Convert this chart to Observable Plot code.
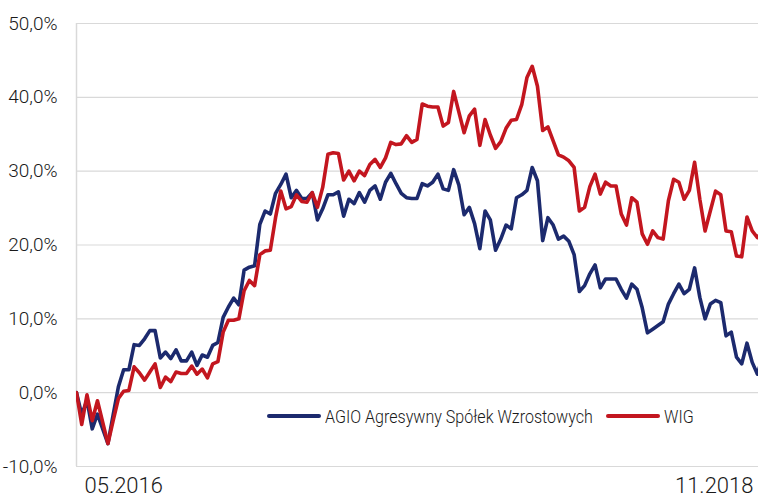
<!DOCTYPE html>
<html>
<head>
<meta charset="utf-8">
<script src="https://cdn.jsdelivr.net/npm/d3@7"></script>
<script src="https://cdn.jsdelivr.net/npm/@observablehq/plot@0.6"></script>
<style>
  html, body { margin: 0; padding: 0; background: #fff; }
  #wrap { position: relative; width: 758px; height: 497px; overflow: hidden; font-family: "Roboto", sans-serif; }
  .item { position: absolute; top: 404px; height: 24px; display: flex; align-items: center; font-size: 19px; font-weight: 300; color: #1a1a1a; white-space: nowrap; }
  .sw { display: inline-block; width: 54px; height: 4px; border-radius: 2px; margin-right: 4px; flex: none; }
  .lbl { display: inline-block; transform: scaleX(0.845); transform-origin: left center; }
</style>
</head>
<body>
<div id="wrap"></div>
<script>
// Series names and colours
const seriesNames = ["AGIO Agresywny Spółek Wzrostowych", "WIG"];
const seriesColors = ["#1c2a6e", "#c3161f"];
// Weekly cumulative returns in %, from 05.2016 to 11.2018 (index = week)
const agio = [
  0.0, -3.0, -1.0, -4.9, -2.9, -4.9, -6.9, -3.0, 0.8, 3.1,
  3.1, 6.5, 6.4, 7.3, 8.4, 8.4, 4.7, 5.5, 4.6, 5.8,
  4.3, 4.3, 5.5, 3.7, 5.1, 4.8, 6.4, 6.8, 10.2, 11.6,
  12.8, 11.9, 16.6, 17.0, 17.2, 22.8, 24.6, 24.2, 27.0, 28.2,
  29.6, 26.4, 27.4, 26.3, 26.3, 27.1, 23.4, 24.9, 26.8, 26.8,
  27.2, 23.9, 26.2, 25.6, 27.1, 25.8, 27.4, 28.0, 26.2, 28.5,
  29.7, 28.3, 27.0, 26.4, 26.3, 26.3, 28.3, 28.0, 28.5, 29.6,
  27.6, 27.4, 30.2, 28.1, 24.1, 25.1, 22.9, 19.5, 24.6, 23.4,
  19.3, 20.8, 22.7, 22.2, 26.4, 26.8, 27.4, 30.5, 28.7, 20.6,
  23.7, 22.7, 20.8, 21.2, 20.5, 18.7, 13.7, 14.5, 16.1, 17.3,
  14.2, 15.4, 15.4, 15.4, 14.0, 12.8, 14.7, 14.0, 11.5, 8.1,
  8.6, 9.1, 9.6, 12.0, 13.4, 14.7, 13.4, 14.0, 16.9, 12.9,
  10.0, 12.0, 12.5, 12.2, 7.7, 8.2, 4.8, 3.9, 6.7, 4.1,
  2.5, 5.0
];
const wig = [
  0.0, -4.3, -0.3, -3.8, -1.1, -4.0, -6.9, -3.8, -0.8, 0.2,
  0.3, 3.5, 2.7, 1.7, 2.8, 3.9, 0.7, 2.1, 1.5, 2.8,
  2.6, 2.6, 3.6, 2.5, 3.2, 2.0, 3.9, 4.2, 8.2, 9.8,
  9.8, 10.0, 13.8, 15.2, 14.5, 18.7, 19.2, 19.3, 23.7, 27.3,
  24.9, 25.2, 26.8, 25.9, 25.8, 27.1, 25.1, 27.8, 32.3, 32.5,
  32.4, 28.8, 30.0, 28.7, 30.0, 29.4, 30.9, 31.6, 30.5, 31.8,
  33.9, 33.6, 33.7, 34.8, 33.9, 34.3, 39.1, 38.8, 38.7, 38.7,
  36.1, 36.6, 40.8, 38.0, 35.2, 37.5, 38.4, 33.5, 37.0, 34.9,
  33.1, 34.0, 35.8, 36.9, 37.0, 39.0, 42.7, 44.2, 41.5, 35.5,
  36.0, 34.1, 32.2, 31.9, 31.4, 30.5, 24.6, 25.1, 27.9, 29.6,
  26.9, 28.5, 28.0, 28.0, 24.2, 22.7, 26.4, 25.8, 21.5, 20.1,
  21.9, 21.0, 20.8, 26.0, 28.9, 28.5, 26.2, 27.4, 31.2, 26.2,
  21.9, 24.6, 27.3, 26.8, 21.9, 21.8, 18.5, 18.4, 23.8, 21.9,
  21.0, 22.0
];
// Axis tick values and labels
const yTicks = [-10, 0, 10, 20, 30, 40, 50];
const xTickLabels = ["05.2016", "11.2018"];

const fmtY = d => d.toFixed(1).replace(".", ",") + "%";
const lastWeek = 130;

const chart = Plot.plot({
  width: 758,
  height: 497,
  marginLeft: 76,
  marginRight: 0,
  marginTop: 23,
  marginBottom: 31,
  style: { fontFamily: "Roboto, sans-serif", fontWeight: 300, background: "#fff", color: "#1a1a1a" },
  x: { domain: [0, lastWeek + 0.2] },
  y: { domain: [-10, 50], ticks: yTicks },
  marks: [
    Plot.gridY(yTicks, { stroke: "#d9d9d9", strokeOpacity: 1, strokeWidth: 1.2 }),
    Plot.ruleX([0], { stroke: "#d9d9d9", strokeWidth: 1.5 }),
    Plot.axisY(yTicks, { tickSize: 0, tickPadding: 19, tickFormat: fmtY, fontSize: 19, label: null, fill: "#1a1a1a" }),
    Plot.axisX([0], { tickSize: 0, tickPadding: 11, tickFormat: () => xTickLabels[0], textAnchor: "start", dx: 8, fontSize: 22, label: null, fill: "#1a1a1a" }),
    Plot.axisX([lastWeek], { tickSize: 0, tickPadding: 11, tickFormat: () => xTickLabels[1], textAnchor: "end", dx: -4, fontSize: 22, label: null, fill: "#1a1a1a" }),
    Plot.lineY(agio, { stroke: seriesColors[0], strokeWidth: 3.6, clip: true, strokeLinejoin: "round" }),
    Plot.lineY(wig, { stroke: seriesColors[1], strokeWidth: 3.6, clip: true, strokeLinejoin: "round" })
  ]
});

const wrap = document.getElementById("wrap");
wrap.appendChild(chart);
const legendLeft = [267, 606];
seriesNames.forEach((name, i) => {
  const item = document.createElement("div");
  item.className = "item";
  item.style.left = legendLeft[i] + "px";
  const sw = document.createElement("span");
  sw.className = "sw";
  sw.style.background = seriesColors[i];
  const t = document.createElement("span");
  t.className = "lbl";
  t.textContent = name;
  item.appendChild(sw);
  item.appendChild(t);
  wrap.appendChild(item);
});
</script>
</body>
</html>
